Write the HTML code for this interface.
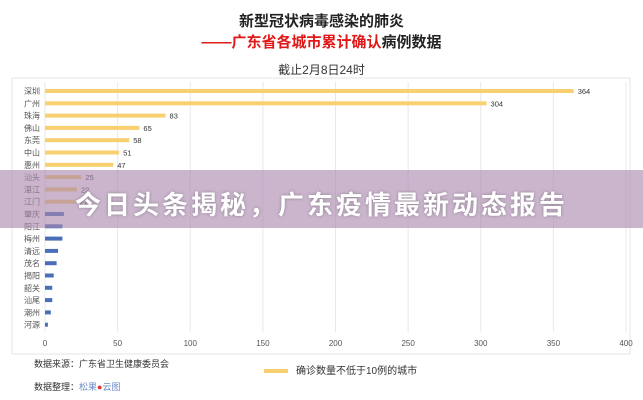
<!DOCTYPE html>
<html><head><meta charset="utf-8"><style>
body{margin:0;width:643px;height:400px;background:#fff;overflow:hidden;position:relative;font-family:"Liberation Sans","Noto Sans CJK SC",sans-serif}
.t{position:absolute;left:0;width:643px;text-align:center;font-weight:bold}
#band{position:absolute;left:0;top:170px;width:643px;height:58px;background:rgba(170,135,175,0.62)}
#bandtxt{position:absolute;left:0;top:185px;width:643px;text-align:center;color:#fff;font-size:26px;font-weight:bold;letter-spacing:3px;text-shadow:0 0 3px rgba(0,0,0,0.3)}
</style></head><body>
<div class="t" style="top:10px;font-size:15px;color:#222">新型冠状病毒感染的肺炎</div>
<div class="t" style="top:31px;font-size:15px;color:#222"><span style="color:#e01818">——广东省各城市累计确认</span>病例数据</div>
<div class="t" style="top:61px;font-size:12px;font-weight:normal;color:#333">截止2月8日24时</div>
<svg id="chart" width="643" height="400" style="position:absolute;left:0;top:0"></svg>
<div style="position:absolute;left:34px;top:357px;font-size:9px;color:#333">数据来源：广东省卫生健康委员会</div>
<div style="position:absolute;left:34px;top:380px;font-size:9px;color:#333">数据整理：<span style="color:#6b8cc8">松果</span><span style="color:#d33">●</span><span style="color:#6b8cc8">云图</span></div>
<div style="position:absolute;left:264px;top:362px;font-size:10px;color:#333"><span style="display:inline-block;width:24px;height:4px;background:#f8d070;vertical-align:middle;margin-right:8px"></span>确诊数量不低于10例的城市</div>
<div id="band"></div>
<div id="bandtxt">今日头条揭秘，广东疫情最新动态报告</div>
<script>
const cities=["深圳","广州","珠海","佛山","东莞","中山","惠州","汕头","湛江","江门","肇庆","阳江","梅州","清远","茂名","揭阳","韶关","汕尾","潮州","河源"];
const cases=[364,304,83,65,58,51,47,25,22,21,13,12,12,9,8,6,5,5,4,2];
const ticks=[0,50,100,150,200,250,300,350,400];
const svg=document.getElementById('chart');const NS="http://www.w3.org/2000/svg";
const x0=45,x1=626,y0=91,step=12.3;
const X=v=>x0+(x1-x0)*v/400, Y=i=>y0+i*step;
function mk(t,a){const e=document.createElementNS(NS,t);for(const k in a)e.setAttribute(k,a[k]);svg.appendChild(e);return e;}
const fr=mk('rect',{x:12,y:78,width:618,height:276,fill:'none',stroke:'#e6e6e6'});


ticks.forEach(t=>{
 const g=mk('line',{x1:X(t),x2:X(t),y1:82,y2:332,stroke:'#e8e8e8'});
 
 
 const l=mk('text',{x:X(t),y:346,'font-size':8,fill:'#555','text-anchor':'middle'});l.textContent=t;
 
 
});
cities.forEach((c,i)=>{
 const y=Y(i);const v=cases[i];const col=v>=20?'#f8d070':'#4a6fb8';
 const b=mk('rect',{x:x0,y:y-2,width:Math.max(1.5,X(v)-x0),height:4,fill:col});
 
 
 const l=mk('text',{x:40,y:y+3,'font-size':8,fill:'#555','text-anchor':'end'});l.textContent=c;
 
 
 if(v>=20){const vl=mk('text',{x:X(v)+4,y:y+3,'font-size':7.5,fill:'#333'});vl.textContent=v;
 
 }
});
</script>
</body></html>
